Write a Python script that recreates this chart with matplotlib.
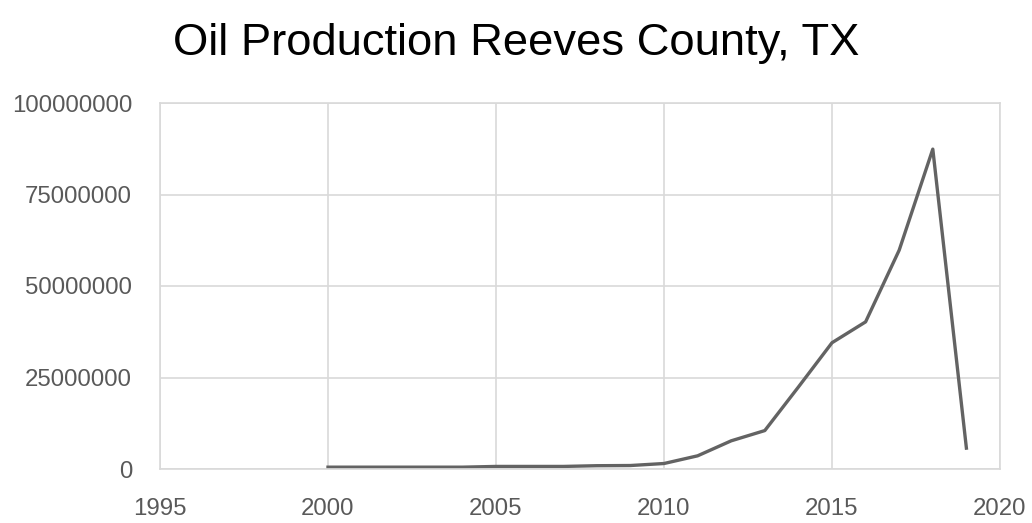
import matplotlib.pyplot as plt

years = [2000, 2001, 2002, 2003, 2004, 2005, 2006, 2007, 2008, 2009,
         2010, 2011, 2012, 2013, 2014, 2015, 2016, 2017, 2018, 2019]
oil = [500000, 500000, 500000, 500000, 500000, 700000, 700000, 700000, 900000, 950000,
       1500000, 3600000, 7700000, 10500000, 22400000, 34500000, 40200000, 59800000, 87400000, 5700000]

yticks = [0, 25000000, 50000000, 75000000, 100000000]
xticks = [1995, 2000, 2005, 2010, 2015, 2020]

plt.rcParams['font.family'] = ['Liberation Sans', 'DejaVu Sans']

fig = plt.figure(figsize=(10.32, 5.23), dpi=100)
ax = fig.add_axes([160 / 1032, (523 - 469) / 523, 840 / 1032, 366 / 523])

ax.plot(years, oil, color='#636363', linewidth=2.4, solid_joinstyle='round')

ax.set_xlim(1995, 2020)
ax.set_ylim(0, 100000000)
ax.set_xticks(xticks)
ax.set_yticks(yticks)
ax.set_xticklabels([str(x) for x in xticks])
ax.set_yticklabels([str(y) for y in yticks])
ax.tick_params(colors='#595959', labelsize=17.3, length=0)
ax.tick_params(axis='x', pad=21)
ax.tick_params(axis='y', pad=20)
ax.grid(True, color='#d9d9d9', linewidth=1.2)
ax.set_axisbelow(True)
for s in ax.spines.values():
    s.set_color('#d9d9d9')
    s.set_linewidth(1.2)

fig.text(0.5, 1 - 44 / 523, 'Oil Production Reeves County, TX', ha='center', va='center',
         fontsize=32.7, color='black')

fig.savefig('out.png', dpi=100)
